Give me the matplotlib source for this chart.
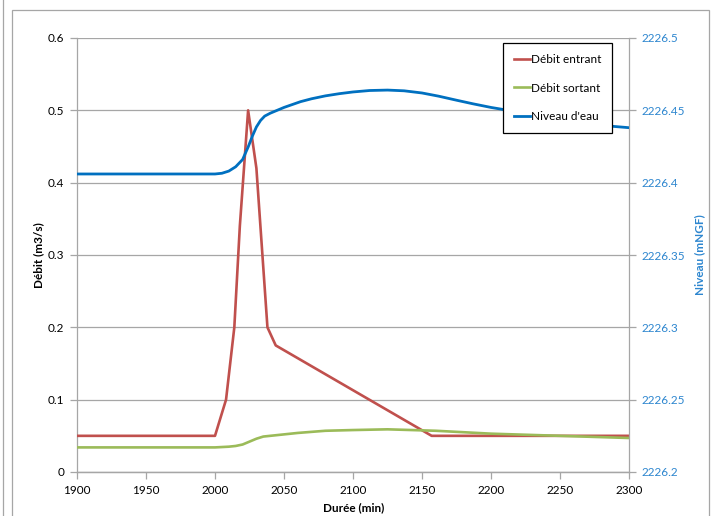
import matplotlib
matplotlib.use("Agg")
import matplotlib.pyplot as plt
from matplotlib.lines import Line2D
from matplotlib.patches import Rectangle

plt.rcParams['font.family'] = ['Lato', 'DejaVu Sans']

# Débit entrant (m3/s)
t_in = [1900, 2000, 2008, 2014, 2018, 2024, 2030, 2038, 2044, 2157, 2300]
q_in = [0.05, 0.05, 0.10, 0.20, 0.34, 0.50, 0.42, 0.20, 0.175, 0.05, 0.05]

# Débit sortant (m3/s)
t_out = [1900, 2000, 2010, 2015, 2020, 2025, 2030, 2035, 2040, 2050, 2060, 2080, 2100, 2125, 2160, 2200, 2250, 2300]
q_out = [0.034, 0.034, 0.035, 0.036, 0.038, 0.042, 0.046, 0.049, 0.050, 0.052, 0.054, 0.057, 0.058, 0.059, 0.057, 0.053, 0.050, 0.047]

# Niveau d'eau (mNGF)
t_niv = [1900, 2000, 2005, 2010, 2015, 2020, 2024, 2027, 2030, 2033, 2036, 2040, 2045, 2050, 2056, 2062,
         2070, 2080, 2090, 2100, 2112, 2125, 2137, 2150, 2162, 2175, 2187, 2200, 2225, 2250, 2275, 2300]
niv = [2226.406, 2226.406, 2226.4065, 2226.408, 2226.411, 2226.416, 2226.4246, 2226.432, 2226.4385, 2226.443,
       2226.446, 2226.448, 2226.450, 2226.452, 2226.454, 2226.456, 2226.458, 2226.460, 2226.4615, 2226.4627,
       2226.4637, 2226.464, 2226.4635, 2226.462, 2226.4598, 2226.457, 2226.4545, 2226.452, 2226.448,
       2226.444, 2226.440, 2226.438]

x_ticks = [1900, 1950, 2000, 2050, 2100, 2150, 2200, 2250, 2300]
y_ticks = [0, 0.1, 0.2, 0.3, 0.4, 0.5, 0.6]
y2_ticks = [2226.2, 2226.25, 2226.3, 2226.35, 2226.4, 2226.45, 2226.5]
y_labels = ['0', '0.1', '0.2', '0.3', '0.4', '0.5', '0.6']
y2_labels = ['2226.2', '2226.25', '2226.3', '2226.35', '2226.4', '2226.45', '2226.5']

c_red = '#C0504D'
c_green = '#9BBB59'
c_blue = '#0070C0'
c_axis_lbl = '#2D86CF'
c_grid = '#A6A6A6'

W, H = 716, 516
fig = plt.figure(figsize=(W / 100, H / 100), dpi=100)
ax = fig.add_axes([77 / W, 1 - 472 / H, (629 - 77) / W, (472 - 38) / H])
ax2 = ax.twinx()

ax.plot(t_in, q_in, color=c_red, lw=1.9, zorder=3)
ax.plot(t_out, q_out, color=c_green, lw=1.9, zorder=3)
ax2.plot(t_niv, niv, color=c_blue, lw=2.0, zorder=3)

ax.set_xlim(1900, 2300)
ax.set_ylim(0, 0.6)
ax2.set_ylim(2226.2, 2226.5)
ax.set_xticks(x_ticks)
ax.set_xticklabels([str(v) for v in x_ticks], fontsize=8.5)
ax.set_yticks(y_ticks)
ax.set_yticklabels(y_labels, fontsize=8.5)
ax2.set_yticks(y2_ticks)
ax2.set_yticklabels(y2_labels, fontsize=8.5, color=c_axis_lbl)

ax.grid(axis='y', color=c_grid, lw=0.9)
ax.set_axisbelow(True)
for a in (ax, ax2):
    a.spines['top'].set_visible(False)
    for s in ('left', 'right', 'bottom'):
        a.spines[s].set_color(c_grid)
        a.spines[s].set_linewidth(0.9)
    a.tick_params(length=5, width=0.9, color=c_grid, pad=4)
ax2.spines['left'].set_visible(False)
ax.spines['right'].set_visible(False)

ax.set_xlabel('Durée (min)', fontsize=8.5, fontweight='bold')
ax.set_ylabel('Débit (m3/s)', fontsize=8.5, fontweight='bold')
ax2.set_ylabel('Niveau (mNGF)', fontsize=8.5, fontweight='bold', color=c_axis_lbl)
ax.xaxis.set_label_coords((354 - 77) / 552, (472 - 508) / 434)
ax.yaxis.set_label_coords((39 - 77) / 552, 0.5)
ax2.yaxis.set_label_coords((700 - 77) / 552, 0.5)
ax.xaxis.label.set_va('center')
ax.yaxis.label.set_va('center')
ax2.yaxis.label.set_va('center')

handles = [Line2D([], [], color=c_red, lw=1.9),
           Line2D([], [], color=c_green, lw=1.9),
           Line2D([], [], color=c_blue, lw=2.0)]
leg = ax2.legend(handles, ['Débit entrant', 'Débit sortant', "Niveau d'eau"],
                 loc='upper left', bbox_to_anchor=(0.772, 0.988), fontsize=8.5,
                 frameon=True, fancybox=False, framealpha=1, edgecolor='black',
                 handlelength=1.4, handletextpad=0.1, labelspacing=1.5,
                 borderpad=0.9, borderaxespad=0)
leg.get_frame().set_linewidth(0.9)
leg.set_zorder(10)

# outer chart frame
fig.patches.append(Rectangle((12 / W, -0.01), (709 - 12) / W, 1 - 10 / H + 0.01,
                             transform=fig.transFigure, fill=False,
                             edgecolor='#A6A6A6', lw=0.9))
fig.lines.append(Line2D([3 / W, 3 / W], [0, 1], transform=fig.transFigure,
                        color='#A6A6A6', lw=0.9))

fig.savefig('out.png', dpi=100)
